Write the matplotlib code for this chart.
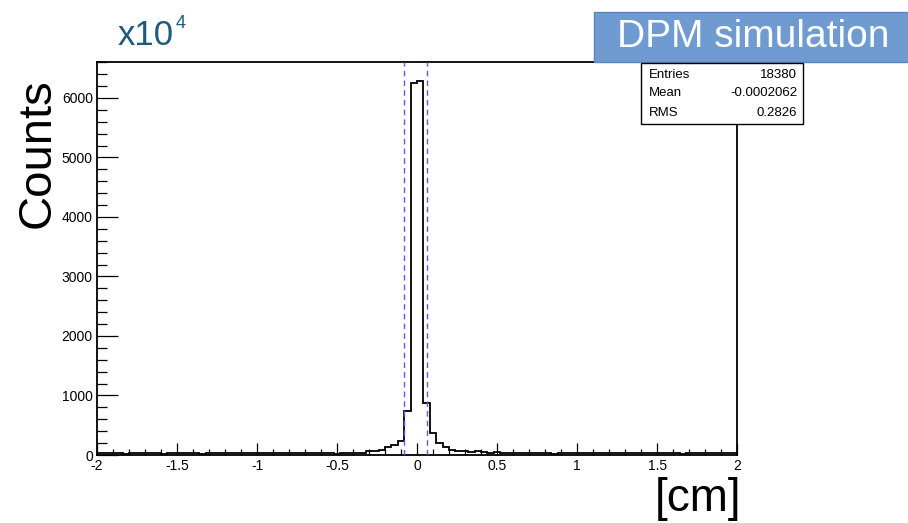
import numpy as np
import matplotlib
matplotlib.use("Agg")
import matplotlib.pyplot as plt
from matplotlib.patches import Rectangle
from matplotlib.ticker import MultipleLocator

plt.rcParams['font.family'] = ['Liberation Sans', 'DejaVu Sans']
plt.rcParams['axes.unicode_minus'] = False

# histogram binning: 100 bins over [-2, 2]
x_min, x_max, n_bins = -2.0, 2.0, 100

# counts per bin
left_tail = [28, 30, 28, 26, 12, 28, 30, 28, 27, 28,
             12, 28, 26, 30, 28, 28, 10, 26, 28, 28,
             30, 28, 27, 28, 30, 28, 28, 26, 28, 30,
             28, 28, 27, 28, 30, 28, 28, 20]
core = [34, 34, 34, 34, 73, 73, 84, 129, 174, 241,
        745, 6257, 6290, 880,
        365, 210, 140, 85, 67, 67, 56, 67, 56, 28, 45]
right_tail = [40, 40, 30, 28, 28, 30, 28, 26, 10, 28,
              27, 28, 30, 28, 28, 26, 28, 30, 28, 27,
              28, 28, 30, 28, 28, 26, 28, 28, 10, 28,
              30, 28, 27, 28, 28, 30, 28]
counts = left_tail + core + right_tail

cut_lines = [-0.08, 0.0625]

xtick_pos = [-2, -1.5, -1, -0.5, 0, 0.5, 1, 1.5, 2]
xtick_labels = ['-2', '-1.5', '-1', '-0.5', '0', '0.5', '1', '1.5', '2']
ytick_pos = [0, 1000, 2000, 3000, 4000, 5000, 6000]
ytick_labels = ['0', '1000', '2000', '3000', '4000', '5000', '6000']

stats = [('Entries', '18380'), ('Mean', '-0.0002062'), ('RMS', '0.2826')]

edges = np.linspace(x_min, x_max, n_bins + 1)

fig = plt.figure(figsize=(9.08, 5.23), dpi=100)
ax = fig.add_axes([0.1068, 0.130, 0.705, 0.7515])

ax.stairs(counts, edges, color='black', linewidth=1.3, baseline=None)
for xc in cut_lines:
    ax.axvline(xc, color='#5a5aff', linewidth=1.0, linestyle=(0, (4, 3)), zorder=3)

ax.set_xlim(x_min, x_max)
ax.set_ylim(0, 1.05 * max(counts))

ax.set_xticks(xtick_pos)
ax.set_xticklabels(xtick_labels)
ax.set_yticks(ytick_pos)
ax.set_yticklabels(ytick_labels)
ax.xaxis.set_minor_locator(MultipleLocator(0.1))
ax.yaxis.set_minor_locator(MultipleLocator(200))

ax.tick_params(axis='both', which='both', direction='in', width=0.9, labelsize=10,
               top=False, right=False)
ax.tick_params(axis='y', which='major', length=15, pad=3)
ax.tick_params(axis='y', which='minor', length=7.5)
ax.tick_params(axis='x', which='major', length=8.5, pad=3)
ax.tick_params(axis='x', which='minor', length=4.5)
for s in ax.spines.values():
    s.set_linewidth(1.3)

# big slide labels
fig.text(0.041, 0.707, 'Counts', rotation=90, fontsize=34, ha='center', va='center')
fig.text(0.769, 0.045, '[cm]', fontsize=33, ha='center', va='center')
fig.text(0.129, 0.914, 'x10', fontsize=25, color='#1d5a7e', ha='left', va='baseline')
fig.text(0.193, 0.946, '4', fontsize=13, color='#1d5a7e', ha='left', va='baseline')

# title box
fig.patches.append(Rectangle((0.654, 0.8815), 0.35, 0.0956, transform=fig.transFigure,
                             facecolor='#6f9bd1', edgecolor='#5a86bd', linewidth=1, zorder=5))
fig.text(0.830, 0.929, 'DPM simulation', fontsize=28, color='white',
         ha='center', va='center', zorder=6)

# stats box
fig.patches.append(Rectangle((0.706, 0.763), 0.178, 0.1165, transform=fig.transFigure,
                             facecolor='white', edgecolor='black', linewidth=1, zorder=5))
row_y = [0.857, 0.822, 0.784]
for (name, val), yy in zip(stats, row_y):
    fig.text(0.715, yy, name, fontsize=9.5, ha='left', va='center', zorder=6)
    fig.text(0.878, yy, val, fontsize=9.5, ha='right', va='center', zorder=6)

fig.savefig('out.png', dpi=100)
